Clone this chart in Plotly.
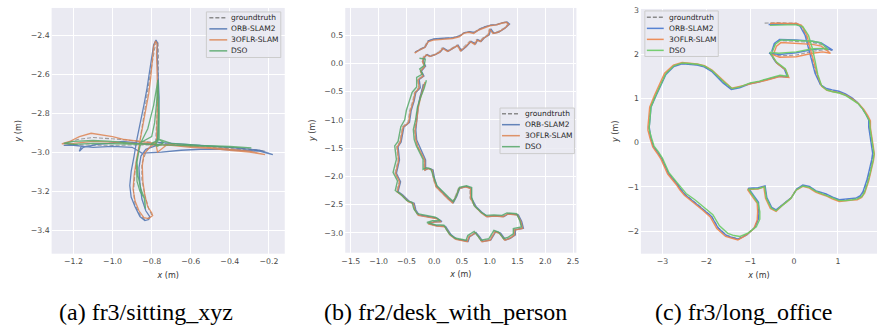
import plotly.graph_objects as go

# ---------------- data ----------------
LABELS = ["groundtruth", "ORB-SLAM2", "3OFLR-SLAM", "DSO"]
CAPTIONS = ["(a) fr3/sitting_xyz", "(b) fr2/desk_with_person", "(c) fr3/long_office"]

# (a) fr3/sitting_xyz
gt1 = [(-0.78,-2.95),(-0.772,-2.80),(-0.768,-2.65),(-0.765,-2.50),(-0.768,-2.44),(-0.775,-2.43),(-0.785,-2.47),
       (-0.80,-2.55),(-0.815,-2.65),(-0.83,-2.75),(-0.85,-2.88),(-0.87,-3.00),(-0.885,-3.10),(-0.893,-3.20),
       (-0.885,-3.27),(-0.86,-3.32),(-0.835,-3.345),(-0.81,-3.335),(-0.80,-3.32),(-0.815,-3.29),(-0.835,-3.22),
       (-0.85,-3.14),(-0.85,-3.06),(-0.83,-3.00),(-0.80,-2.96),(-0.78,-2.95),(-0.86,-2.945),(-0.95,-2.935),
       (-1.02,-2.93),(-1.10,-2.925),(-1.18,-2.935),(-1.245,-2.955),(-1.20,-2.962),(-1.10,-2.965),(-1.00,-2.965),
       (-0.90,-2.963),(-0.80,-2.962),(-0.70,-2.964),(-0.60,-2.966),(-0.50,-2.970),(-0.40,-2.976),(-0.30,-2.984),
       (-0.22,-2.994),(-0.32,-2.988),(-0.45,-2.978),(-0.60,-2.968),(-0.72,-2.958),(-0.78,-2.95)]
orb1 = [(-0.77,-2.94),(-0.765,-2.85),(-0.762,-2.72),(-0.768,-2.60),(-0.772,-2.50),(-0.77,-2.44),(-0.778,-2.425),
        (-0.79,-2.45),(-0.80,-2.52),(-0.81,-2.60),(-0.825,-2.68),(-0.84,-2.76),(-0.86,-2.85),(-0.875,-2.93),
        (-0.89,-3.02),(-0.905,-3.10),(-0.912,-3.17),(-0.905,-3.23),(-0.885,-3.28),(-0.86,-3.33),(-0.835,-3.35),
        (-0.815,-3.345),(-0.81,-3.33),(-0.83,-3.30),(-0.85,-3.24),(-0.86,-3.16),(-0.865,-3.08),(-0.855,-3.02),
        (-0.83,-2.985),(-0.79,-2.97),(-0.76,-2.96),(-0.85,-2.955),(-0.95,-2.945),(-1.02,-2.955),(-1.08,-2.96),
        (-1.15,-2.975),(-1.17,-2.995),(-1.16,-2.97),(-1.20,-2.96),(-1.25,-2.965),(-1.20,-2.965),(-1.10,-2.975),
        (-1.00,-2.97),(-0.90,-2.975),(-0.85,-3.005),(-0.75,-3.0),(-0.65,-2.99),(-0.55,-2.985),(-0.45,-2.985),
        (-0.35,-2.99),(-0.25,-2.995),(-0.18,-3.012),(-0.25,-2.99),(-0.40,-2.975),(-0.55,-2.965),(-0.70,-2.955),
        (-0.77,-2.95)]
ofl1 = [(-0.775,-2.945),(-0.772,-2.85),(-0.77,-2.72),(-0.772,-2.60),(-0.775,-2.50),(-0.772,-2.445),(-0.78,-2.43),
        (-0.79,-2.46),(-0.795,-2.53),(-0.805,-2.62),(-0.815,-2.70),(-0.83,-2.78),(-0.848,-2.87),(-0.865,-2.95),
        (-0.878,-3.04),(-0.89,-3.12),(-0.895,-3.19),(-0.885,-3.25),(-0.865,-3.30),(-0.84,-3.335),(-0.815,-3.34),
        (-0.795,-3.325),(-0.80,-3.31),(-0.82,-3.28),(-0.835,-3.22),(-0.845,-3.15),(-0.848,-3.07),(-0.84,-3.01),
        (-0.81,-2.975),(-0.78,-2.955),(-0.86,-2.945),(-0.94,-2.935),(-1.00,-2.92),(-1.06,-2.91),(-1.11,-2.903),
        (-1.17,-2.92),(-1.22,-2.945),(-1.26,-2.957),(-1.20,-2.955),(-1.10,-2.945),(-1.00,-2.948),(-0.90,-2.955),
        (-0.80,-2.96),(-0.70,-2.965),(-0.60,-2.975),(-0.50,-2.98),(-0.40,-2.99),(-0.30,-3.0),(-0.22,-3.012),
        (-0.30,-2.995),(-0.45,-2.98),(-0.60,-2.97),(-0.72,-2.96),(-0.77,-3.0),(-0.78,-2.95)]
dso1 = [(-0.77,-2.95),(-0.765,-2.80),(-0.768,-2.63),(-0.775,-2.75),(-0.785,-2.85),(-0.80,-2.92),(-0.855,-2.95),
        (-0.878,-3.05),(-0.875,-3.15),(-0.86,-3.20),(-0.838,-3.235),(-0.832,-3.29),(-0.835,-3.24),(-0.855,-3.19),
        (-0.87,-3.12),(-0.875,-3.05),(-0.86,-2.96),(-0.82,-2.88),(-0.79,-2.76),(-0.768,-2.63),(-0.762,-2.80),
        (-0.762,-2.93),(-0.78,-2.96),(-0.90,-2.955),(-1.00,-2.945),(-1.10,-2.94),(-1.20,-2.945),(-1.25,-2.955),
        (-1.20,-2.96),(-1.10,-2.955),(-1.00,-2.955),(-0.90,-2.958),(-0.80,-2.96),(-0.70,-2.965),(-0.60,-2.968),
        (-0.50,-2.97),(-0.40,-2.975),(-0.29,-2.978),(-0.40,-2.97),(-0.55,-2.965),(-0.70,-2.955),(-0.76,-2.935),
        (-0.80,-2.955),(-0.77,-2.97),(-0.74,-2.95),(-0.77,-2.93),(-0.78,-2.95)]

# (b) fr2/desk_with_person
gt2 = [(-0.355,0.19),(-0.267,0.248),(-0.179,0.289),(-0.121,0.394),(-0.032,0.423),(0.144,0.441),(0.320,0.453),
       (0.437,0.482),(0.525,0.54),(0.613,0.558),(0.701,0.54),(0.789,0.599),(0.877,0.64),(0.995,0.675),(1.112,0.687),
       (1.200,0.716),(1.288,0.733),(1.329,0.698),(1.259,0.628),(1.141,0.558),(1.053,0.54),(0.995,0.616),(0.965,0.511),
       (0.877,0.453),(0.818,0.394),(0.760,0.423),(0.719,0.347),(0.642,0.394),(0.554,0.306),(0.466,0.23),(0.408,0.324),
       (0.320,0.277),(0.232,0.219),(0.144,0.277),(0.085,0.207),(-0.003,0.16),(-0.091,0.131),(-0.150,0.16),(-0.197,0.114),
       (-0.220,0.043),(-0.179,-0.044),(-0.256,-0.132),(-0.209,-0.22),(-0.297,-0.278),(-0.279,-0.425),(-0.355,-0.512),
       (-0.385,-0.658),(-0.443,-0.834),(-0.473,-1.038),(-0.572,-1.118),(-0.619,-1.383),(-0.678,-1.471),(-0.649,-1.706),
       (-0.707,-1.942),(-0.631,-2.089),(-0.678,-2.265),(-0.590,-2.324),(-0.473,-2.442),(-0.385,-2.471),(-0.355,-2.589),
       (-0.297,-2.677),(-0.150,-2.706),(0.026,-2.736),(0.114,-2.794),(-0.02,-2.80),(-0.12,-2.83),(0.03,-2.87),
       (0.18,-2.88),(0.22,-2.95),(0.28,-3.03),(0.378,-3.106),(0.584,-3.147),(0.613,-3.059),(0.730,-2.989),
       (0.789,-3.059),(0.848,-3.147),(0.995,-3.118),(1.083,-2.971),(1.171,-3.0),(1.259,-3.118),(1.347,-3.089),
       (1.435,-3.030),(1.435,-2.942),(1.581,-2.912),(1.552,-2.794),(1.493,-2.677),(1.317,-2.659),(1.229,-2.706),
       (1.083,-2.694),(0.936,-2.706),(0.848,-2.647),(0.730,-2.530),(0.642,-2.383),(0.642,-2.206),(0.554,-2.177),
       (0.437,-2.206),(0.378,-2.353),(0.320,-2.459),(0.232,-2.383),(0.144,-2.294),(0.026,-2.177),(-0.021,-2.030),
       (-0.044,-1.883),(-0.121,-1.853),(-0.179,-1.883),(-0.179,-1.706),(-0.238,-1.589),(-0.297,-1.471),(-0.338,-1.353),
       (-0.355,-1.177),(-0.326,-1.008),(-0.297,-0.774),(-0.256,-0.599),(-0.220,-0.453),(-0.197,-0.365)]
orb2 = [(-0.34,0.20),(-0.25,0.25),(-0.16,0.29),(-0.10,0.40),(-0.01,0.43),(0.17,0.445),(0.345,0.455),(0.46,0.485),
        (0.55,0.545),(0.64,0.56),(0.725,0.545),(0.815,0.60),(0.90,0.64),(1.02,0.675),(1.135,0.685),(1.225,0.715),
        (1.31,0.73),(1.355,0.695),(1.28,0.625),(1.165,0.555),(1.075,0.535),(1.02,0.61),(0.99,0.505),(0.90,0.45),
        (0.845,0.39),(0.785,0.42),(0.745,0.345),(0.665,0.39),(0.58,0.30),(0.49,0.225),(0.43,0.32),(0.345,0.27),
        (0.255,0.215),(0.17,0.27),(0.11,0.20),(0.02,0.155),(-0.065,0.125),(-0.125,0.155),(-0.17,0.11),(-0.20,0.04),
        (-0.155,-0.05),(-0.23,-0.135),(-0.185,-0.225),(-0.27,-0.285),(-0.25,-0.43),(-0.33,-0.515),(-0.36,-0.665),
        (-0.415,-0.84),(-0.445,-1.045),(-0.545,-1.125),(-0.595,-1.39),(-0.65,-1.475),(-0.625,-1.71),(-0.68,-1.945),
        (-0.605,-2.095),(-0.65,-2.27),(-0.565,-2.33),(-0.445,-2.445),(-0.36,-2.475),(-0.33,-2.595),(-0.27,-2.685),
        (-0.125,-2.71),(0.05,-2.74),(0.14,-2.80),(0.005,-2.805),(-0.095,-2.835),(0.055,-2.875),(0.205,-2.885),
        (0.245,-2.955),(0.305,-3.035),(0.405,-3.11),(0.61,-3.15),(0.64,-3.065),(0.755,-2.995),(0.815,-3.065),
        (0.875,-3.15),(1.02,-3.125),(1.11,-2.975),(1.195,-3.005),(1.285,-3.125),(1.37,-3.095),(1.46,-3.035),
        (1.46,-2.945),(1.605,-2.915),(1.575,-2.80),(1.515,-2.68),(1.34,-2.66),(1.255,-2.71),(1.105,-2.70),(0.96,-2.71),
        (0.875,-2.65),(0.755,-2.535),(0.67,-2.385),(0.665,-2.21),(0.58,-2.18),(0.46,-2.21),(0.405,-2.355),(0.345,-2.465),
        (0.255,-2.385),(0.17,-2.295),(0.05,-2.18),(0.005,-2.035),(-0.02,-1.885),(-0.095,-1.855),(-0.155,-1.885),
        (-0.155,-1.71),(-0.21,-1.59),(-0.27,-1.475),(-0.315,-1.355),(-0.33,-1.18),(-0.31,-0.95),(-0.29,-0.78),
        (-0.26,-0.62),(-0.22,-0.48),(-0.19,-0.37)]
ofl2 = [(-0.35,0.18),(-0.26,0.24),(-0.17,0.28),(-0.11,0.38),(-0.02,0.41),(0.15,0.43),(0.33,0.44),(0.45,0.47),
        (0.53,0.53),(0.62,0.55),(0.71,0.53),(0.80,0.59),(0.89,0.63),(1.00,0.665),(1.12,0.68),(1.21,0.71),(1.30,0.725),
        (1.34,0.69),(1.27,0.62),(1.15,0.55),(1.06,0.53),(1.00,0.605),(0.975,0.50),(0.89,0.445),(0.83,0.385),(0.77,0.41),
        (0.73,0.335),(0.65,0.385),(0.565,0.295),(0.475,0.22),(0.42,0.315),(0.33,0.265),(0.24,0.21),(0.155,0.265),
        (0.095,0.195),(0.005,0.15),(-0.08,0.12),(-0.14,0.15),(-0.19,0.10),(-0.21,0.03),(-0.17,-0.055),(-0.245,-0.14),
        (-0.20,-0.23),(-0.29,-0.29),(-0.27,-0.435),(-0.345,-0.52),(-0.375,-0.67),(-0.43,-0.845),(-0.46,-1.05),
        (-0.56,-1.13),(-0.61,-1.395),(-0.665,-1.48),(-0.64,-1.715),(-0.695,-1.95),(-0.62,-2.10),(-0.665,-2.275),
        (-0.58,-2.335),(-0.46,-2.45),(-0.375,-2.48),(-0.345,-2.60),(-0.285,-2.69),(-0.14,-2.715),(0.035,-2.745),
        (0.125,-2.805),(-0.01,-2.81),(-0.11,-2.84),(0.04,-2.88),(0.19,-2.89),(0.23,-2.96),(0.29,-3.04),(0.39,-3.115),
        (0.595,-3.155),(0.625,-3.07),(0.74,-3.0),(0.80,-3.07),(0.86,-3.155),(1.005,-3.13),(1.095,-2.98),(1.18,-3.01),
        (1.27,-3.13),(1.355,-3.10),(1.445,-3.04),(1.445,-2.95),(1.59,-2.92),(1.56,-2.80),(1.50,-2.685),(1.325,-2.665),
        (1.24,-2.715),(1.09,-2.70),(0.945,-2.715),(0.86,-2.655),(0.74,-2.54),(0.655,-2.39),(0.655,-2.215),(0.565,-2.185),
        (0.445,-2.215),(0.39,-2.36),(0.33,-2.47),(0.24,-2.39),(0.155,-2.30),(0.035,-2.185),(-0.01,-2.04),(-0.035,-1.89),
        (-0.11,-1.86),(-0.17,-1.89),(-0.17,-1.715),(-0.23,-1.60),(-0.29,-1.48),(-0.33,-1.36),(-0.345,-1.185),
        (-0.315,-1.015),(-0.285,-0.78),(-0.245,-0.605),(-0.205,-0.46),(-0.165,-0.33)]
dso2 = [(-0.265,0.09),(-0.16,0.075),(-0.18,-0.04),(-0.26,-0.10),(-0.21,-0.19),(-0.315,-0.25),(-0.315,-0.42),
        (-0.395,-0.51),(-0.445,-0.66),(-0.50,-0.83),(-0.53,-1.00),(-0.60,-1.12),(-0.65,-1.38),(-0.71,-1.46),(-0.68,-1.70),
        (-0.74,-1.93),(-0.66,-2.08),(-0.70,-2.25),(-0.61,-2.31),(-0.49,-2.43),(-0.40,-2.46),(-0.365,-2.575),(-0.305,-2.66),
        (-0.155,-2.69),(0.02,-2.72),(0.11,-2.78),(-0.03,-2.785),(-0.13,-2.815),(0.02,-2.855),(0.175,-2.865),(0.215,-2.935),
        (0.27,-3.015),(0.37,-3.09),(0.575,-3.13),(0.605,-3.045),(0.72,-2.975),(0.78,-3.045),(0.84,-3.13),(0.985,-3.10),
        (1.075,-2.955),(1.16,-2.985),(1.25,-3.10),(1.335,-3.075),(1.425,-3.015),(1.425,-2.925),(1.57,-2.895),(1.54,-2.78),
        (1.485,-2.66),(1.31,-2.645),(1.22,-2.69),(1.075,-2.68),(0.93,-2.69),(0.84,-2.63),(0.72,-2.515),(0.675,-2.37),
        (0.675,-2.195),(0.58,-2.165),(0.455,-2.195),(0.40,-2.34),(0.345,-2.445),(0.26,-2.37),(0.17,-2.28),(0.05,-2.165),
        (-0.005,-2.02),(-0.06,-1.87),(-0.14,-1.845),(-0.20,-1.875),(-0.20,-1.70),(-0.26,-1.58),(-0.32,-1.46),
        (-0.36,-1.345),(-0.375,-1.17),(-0.335,-1.00),(-0.30,-0.77),(-0.24,-0.59),(-0.18,-0.44),(-0.14,-0.30)]

# (c) fr3/long_office
gt3 = [(-0.67,2.70),(-0.40,2.71),(-0.15,2.70),(0.05,2.70),(0.15,2.66),(0.27,2.44),(0.35,2.14),(0.42,1.85),(0.50,1.55),
       (0.61,1.29),(0.73,1.21),(0.88,1.17),(1.03,1.14),(1.18,1.08),(1.33,0.99),(1.45,0.89),(1.56,0.76),(1.65,0.62),
       (1.71,0.50),(1.71,0.35),(1.75,0.12),(1.78,-0.09),(1.80,-0.25),(1.78,-0.39),(1.75,-0.55),(1.71,-0.69),(1.67,-0.85),
       (1.63,-0.99),(1.58,-1.12),(1.52,-1.21),(1.43,-1.26),(1.33,-1.27),(1.18,-1.29),(1.03,-1.30),(0.88,-1.24),
       (0.73,-1.17),(0.60,-1.13),(0.50,-1.10),(0.35,-1.00),(0.20,-0.97),(0.05,-1.06),(-0.07,-1.25),(-0.17,-1.33),
       (-0.26,-1.40),(-0.41,-1.53),(-0.52,-1.47),(-0.63,-1.25),(-0.67,-0.99),(-0.82,-1.03),(-1.05,-1.04),(-0.93,-1.21),
       (-0.82,-1.36),(-0.81,-1.55),(-0.82,-1.73),(-0.90,-1.92),(-1.08,-2.07),(-1.27,-2.17),(-1.40,-2.14),(-1.54,-2.09),
       (-1.73,-1.92),(-1.88,-1.66),(-2.06,-1.51),(-2.29,-1.32),(-2.48,-1.17),(-2.58,-1.05),(-2.67,-0.92),(-2.86,-0.69),
       (-3.01,-0.36),(-3.10,-0.22),(-3.20,-0.09),(-3.26,0.10),(-3.31,0.28),(-3.31,0.35),(-3.29,0.55),(-3.27,0.80),
       (-3.16,1.06),(-3.05,1.30),(-2.93,1.55),(-2.74,1.73),(-2.55,1.79),(-2.21,1.76),(-2.05,1.72),(-1.88,1.62),
       (-1.75,1.50),(-1.61,1.36),(-1.42,1.21),(-1.24,1.25),(-1.01,1.34),(-0.80,1.38),(-0.63,1.43),(-0.33,1.51),
       (-0.14,1.49),(-0.21,1.66),(-0.41,1.81),(-0.52,1.99),(-0.56,2.03),(-0.33,1.96),(0.05,1.98),(0.42,2.06),(0.70,2.10),
       (0.86,2.08),(0.62,2.22),(0.42,2.26),(0.05,2.29),(-0.33,2.31),(-0.44,2.22),(-0.50,2.05)]
orb3 = [(-0.58,2.67),(-0.40,2.68),(-0.15,2.68),(0.04,2.68),(0.13,2.64),(0.25,2.43),(0.33,2.14),(0.40,1.86),(0.48,1.56),
        (0.60,1.31),(0.72,1.23),(0.87,1.19),(1.02,1.16),(1.17,1.10),(1.32,1.01),(1.44,0.91),(1.55,0.78),(1.64,0.64),
        (1.70,0.51),(1.70,0.36),(1.74,0.13),(1.77,-0.08),(1.79,-0.24),(1.77,-0.38),(1.74,-0.54),(1.70,-0.68),(1.66,-0.84),
        (1.62,-0.98),(1.57,-1.11),(1.51,-1.20),(1.42,-1.25),(1.32,-1.26),(1.18,-1.28),(1.03,-1.29),(0.88,-1.23),
        (0.73,-1.16),(0.60,-1.12),(0.50,-1.09),(0.35,-0.99),(0.20,-0.96),(0.06,-1.05),(-0.06,-1.24),(-0.16,-1.32),
        (-0.25,-1.39),(-0.41,-1.52),(-0.51,-1.46),(-0.62,-1.24),(-0.66,-0.98),(-0.82,-1.02),(-1.04,-1.03),(-0.92,-1.20),
        (-0.81,-1.35),(-0.80,-1.55),(-0.81,-1.72),(-0.89,-1.91),(-1.07,-2.08),(-1.26,-2.18),(-1.40,-2.15),(-1.54,-2.10),
        (-1.73,-1.93),(-1.88,-1.67),(-2.06,-1.52),(-2.29,-1.33),(-2.48,-1.18),(-2.58,-1.06),(-2.67,-0.93),(-2.86,-0.70),
        (-3.01,-0.37),(-3.10,-0.23),(-3.20,-0.10),(-3.26,0.09),(-3.30,0.28),(-3.30,0.35),(-3.28,0.55),(-3.26,0.80),
        (-3.15,1.05),(-3.04,1.29),(-2.92,1.54),(-2.74,1.72),(-2.55,1.78),(-2.21,1.75),(-2.05,1.71),(-1.88,1.61),
        (-1.76,1.49),(-1.62,1.35),(-1.43,1.20),(-1.24,1.24),(-1.01,1.33),(-0.80,1.37),(-0.63,1.42),(-0.33,1.50),
        (-0.15,1.48),(-0.22,1.66),(-0.42,1.82),(-0.53,2.00),(-0.57,2.02),(-0.33,1.99),(0.05,2.03),(0.42,2.10),(0.70,2.13),
        (0.88,2.09),(0.62,2.25),(0.42,2.29),(0.05,2.32),(-0.33,2.33),(-0.45,2.24),(-0.51,2.06)]
ofl3 = [(-0.55,2.69),(-0.40,2.70),(-0.15,2.69),(0.05,2.69),(0.17,2.65),(0.29,2.43),(0.37,2.13),(0.45,1.84),(0.53,1.53),
        (0.63,1.27),(0.75,1.18),(0.90,1.15),(1.05,1.12),(1.20,1.06),(1.35,0.97),(1.48,0.87),(1.59,0.75),(1.68,0.61),
        (1.74,0.49),(1.74,0.34),(1.78,0.11),(1.81,-0.10),(1.83,-0.26),(1.81,-0.40),(1.78,-0.56),(1.74,-0.70),(1.70,-0.87),
        (1.66,-1.01),(1.61,-1.14),(1.54,-1.24),(1.44,-1.29),(1.33,-1.30),(1.18,-1.32),(1.03,-1.33),(0.87,-1.27),
        (0.72,-1.20),(0.59,-1.16),(0.49,-1.12),(0.35,-1.03),(0.20,-0.99),(0.04,-1.08),(-0.08,-1.27),(-0.18,-1.35),
        (-0.27,-1.42),(-0.41,-1.555),(-0.54,-1.49),(-0.65,-1.26),(-0.69,-1.00),(-0.82,-1.05),(-1.06,-1.06),(-0.95,-1.22),
        (-0.84,-1.37),(-0.83,-1.56),(-0.84,-1.75),(-0.92,-1.95),(-1.10,-2.10),(-1.28,-2.20),(-1.41,-2.17),(-1.56,-2.12),
        (-1.76,-1.94),(-1.91,-1.68),(-2.08,-1.53),(-2.31,-1.34),(-2.50,-1.19),(-2.60,-1.07),(-2.69,-0.94),(-2.88,-0.71),
        (-3.03,-0.38),(-3.12,-0.24),(-3.22,-0.10),(-3.28,0.09),(-3.33,0.28),(-3.33,0.35),(-3.31,0.55),(-3.29,0.80),
        (-3.18,1.07),(-3.07,1.31),(-2.95,1.57),(-2.75,1.75),(-2.55,1.81),(-2.21,1.78),(-2.04,1.74),(-1.87,1.64),
        (-1.74,1.52),(-1.60,1.38),(-1.42,1.23),(-1.24,1.27),(-1.01,1.32),(-0.80,1.36),(-0.63,1.41),(-0.33,1.49),
        (-0.12,1.47),(-0.19,1.64),(-0.39,1.79),(-0.50,1.97),(-0.52,2.00),(-0.33,1.93),(0.05,1.94),(0.42,2.02),(0.65,2.05),
        (0.83,2.02),(0.62,2.18),(0.42,2.22),(0.05,2.24),(-0.30,2.26),(-0.40,2.18),(-0.46,2.02)]
dso3 = [(-0.55,2.65),(-0.40,2.66),(-0.15,2.66),(0.05,2.66),(0.20,2.62),(0.33,2.42),(0.42,2.12),(0.48,1.84),(0.54,1.54),
        (0.63,1.28),(0.74,1.19),(0.88,1.15),(1.03,1.12),(1.18,1.06),(1.33,0.97),(1.46,0.88),(1.57,0.75),(1.66,0.61),
        (1.72,0.49),(1.73,0.34),(1.77,0.11),(1.80,-0.10),(1.82,-0.26),(1.80,-0.40),(1.77,-0.56),(1.73,-0.70),(1.69,-0.86),
        (1.65,-1.00),(1.60,-1.13),(1.54,-1.22),(1.44,-1.27),(1.33,-1.29),(1.18,-1.31),(1.03,-1.31),(0.88,-1.25),
        (0.73,-1.18),(0.60,-1.13),(0.50,-1.10),(0.35,-1.01),(0.20,-0.98),(0.05,-1.07),(-0.07,-1.26),(-0.17,-1.34),
        (-0.26,-1.41),(-0.41,-1.54),(-0.52,-1.48),(-0.63,-1.26),(-0.67,-1.00),(-0.82,-1.04),(-1.04,-1.05),(-0.93,-1.22),
        (-0.82,-1.37),(-0.78,-1.56),(-0.78,-1.73),(-0.86,-1.90),(-1.04,-2.04),(-1.23,-2.12),(-1.37,-2.10),(-1.51,-2.05),
        (-1.70,-1.88),(-1.85,-1.63),(-2.03,-1.48),(-2.26,-1.29),(-2.46,-1.15),(-2.57,-1.03),(-2.66,-0.91),(-2.85,-0.68),
        (-3.00,-0.35),(-3.09,-0.21),(-3.19,-0.08),(-3.25,0.11),(-3.30,0.29),(-3.30,0.36),(-3.28,0.56),(-3.26,0.81),
        (-3.15,1.07),(-3.04,1.31),(-2.92,1.56),(-2.73,1.74),(-2.54,1.80),(-2.20,1.77),(-2.04,1.73),(-1.87,1.63),
        (-1.74,1.51),(-1.60,1.37),(-1.41,1.22),(-1.23,1.26),(-1.00,1.35),(-0.79,1.39),(-0.62,1.44),(-0.32,1.52),
        (-0.14,1.50),(-0.20,1.67),(-0.40,1.82),(-0.51,2.00),(-0.55,2.04),(-0.35,2.02),(0.05,2.05),(0.42,2.12),(0.65,2.13),
        (0.78,2.10),(0.60,2.26),(0.42,2.29),(0.05,2.31),(-0.30,2.32),(-0.42,2.23),(-0.49,2.07)]

# ---------------- styling ----------------
W, H = 881, 329
BG = "#EAEAF2"
GRAY = "#808080"
DEEP = ["#4c72b0", "#dd8452", "#55a868"]
MUTED = ["#4878d0", "#ee854a", "#6acc64"]
TICKFONT = dict(family="DejaVu Sans", size=7.8, color="#4a4a4a")
TITLEFONT = dict(family="DejaVu Sans", size=8, color="#333333")


def pxx(v):
    return v / W


def pxy(v):
    return 1 - v / H


panels = [
    dict(series=[gt1, orb1, ofl1, dso1], colors=DEEP, opacity=0.85, width=1.3, gtop=0.75,
         xdom=[48, 283], ydom=[5, 253], xr=[-1.312, -0.119], yr=[-3.52, -2.261],
         xd=0.2, x0=-1.2, yd=0.2, y0=-3.4, fmt=".1f",
         legend=dict(box=(204, 9, 279, 55), lx=(207, 225), tx=227, top=15.0)),
    dict(series=[gt2, orb2, ofl2, dso2], colors=DEEP, opacity=0.85, width=1.4, gtop=0.5,
         xdom=[344, 577], ydom=[5, 252], xr=[-1.60, 2.56], yr=[-3.35, 0.98],
         xd=0.5, x0=-1.5, yd=0.5, y0=-3.0, fmt=".1f",
         legend=dict(box=(500, 106, 575, 152), lx=(502, 520), tx=523, top=111.7)),
    dict(series=[gt3, orb3, ofl3, dso3], colors=MUTED, opacity=0.9, width=1.4, gtop=0.75,
         xdom=[642, 880], ydom=[6, 253], xr=[-3.49, 1.89], yr=[-2.51, 3.02],
         xd=1, x0=-3, yd=1, y0=-2, fmt="d",
         legend=dict(box=(646, 8, 720, 54), lx=(648, 665), tx=668, top=14.5)),
]

fig = go.Figure()
layout = dict(width=W, height=H, margin=dict(l=0, r=0, t=0, b=0),
              paper_bgcolor="white", plot_bgcolor=BG, showlegend=False)

for i, p in enumerate(panels):
    sfx = "" if i == 0 else str(i + 1)
    for j, data in enumerate(p["series"]):
        xs = [pt[0] for pt in data]
        ys = [pt[1] for pt in data]
        if j == 0:
            line = dict(color=GRAY, width=1.1, dash="4px,2px")
            op = p["gtop"]
        else:
            line = dict(color=p["colors"][j - 1], width=p["width"])
            op = p["opacity"]
        fig.add_trace(go.Scatter(x=xs, y=ys, mode="lines", name=LABELS[j], line=line,
                                 opacity=op, xaxis="x" + sfx, yaxis="y" + sfx,
                                 hoverinfo="skip"))
    common = dict(showgrid=True, gridcolor="white", gridwidth=1, zeroline=False,
                  showline=False, ticks="", tickfont=TICKFONT, tickformat=p["fmt"])
    layout["xaxis" + sfx] = dict(common, domain=[pxx(p["xdom"][0]), pxx(p["xdom"][1])],
                                 range=p["xr"], dtick=p["xd"], tick0=p["x0"],
                                 anchor="y" + sfx, ticklabelstandoff=2,
                                 title=dict(text="<i>x</i> (m)", font=TITLEFONT, standoff=6))
    layout["yaxis" + sfx] = dict(common, domain=[pxy(p["ydom"][1]), pxy(p["ydom"][0])],
                                 range=p["yr"], dtick=p["yd"], tick0=p["y0"],
                                 anchor="x" + sfx, ticklabelstandoff=1,
                                 title=dict(text="<i>y</i> (m)", font=TITLEFONT, standoff=7))

fig.update_layout(**layout)

# legends (drawn to match the compact matplotlib legend)
for i, p in enumerate(panels):
    lg = p["legend"]
    x0, y0, x1, y1 = lg["box"]
    fig.add_shape(type="rect", xref="paper", yref="paper",
                  x0=pxx(x0), x1=pxx(x1), y0=pxy(y1), y1=pxy(y0),
                  fillcolor="rgba(234,234,242,0.85)", line=dict(color="#cccccc", width=1))
    for j, lab in enumerate(LABELS):
        ry = lg["top"] + j * 11.1
        if j == 0:
            ln = dict(color=GRAY, width=1.5, dash="4px,2px")
        else:
            ln = dict(color=p["colors"][j - 1], width=1.5)
        fig.add_shape(type="line", xref="paper", yref="paper",
                      x0=pxx(lg["lx"][0]), x1=pxx(lg["lx"][1]), y0=pxy(ry), y1=pxy(ry),
                      line=ln, opacity=p["opacity"] if j else 0.9)
        fig.add_annotation(xref="paper", yref="paper", x=pxx(lg["tx"]), y=pxy(ry),
                           text=lab, showarrow=False, xanchor="left", yanchor="middle",
                           font=dict(family="DejaVu Sans", size=7.5, color="#262626"))

# captions
for cx, cap in zip([143, 445, 745], CAPTIONS):
    fig.add_annotation(xref="paper", yref="paper", x=pxx(cx), y=pxy(312), text=cap,
                       showarrow=False, xanchor="center", yanchor="middle",
                       font=dict(family="Liberation Serif", size=24, color="black"))

fig.write_html("out.html",
               config={"displayModeBar": False, "staticPlot": True},
               post_script="document.body.style.margin='0px';"
                           "document.body.style.padding='0px';"
                           "document.body.style.overflow='hidden';")
